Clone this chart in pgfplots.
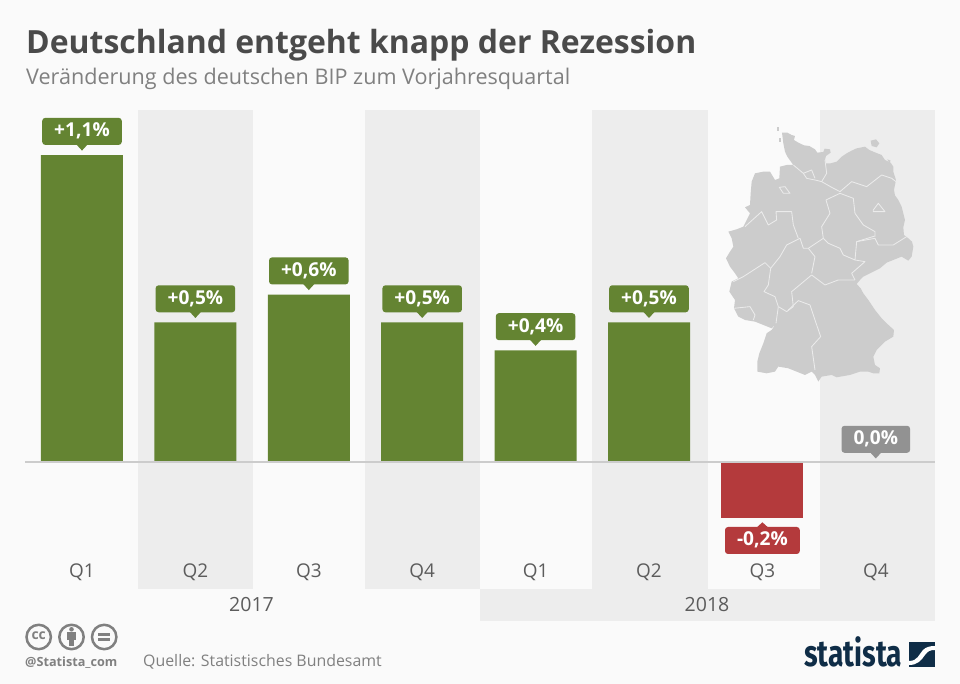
\documentclass[border=0pt]{standalone}
\usepackage{pgfplots}
\usepackage{fontspec}
\pgfplotsset{compat=1.18}
\setmainfont{Open Sans}
\newfontfamily\logofont{Fira Sans}
\definecolor{bgcol}{HTML}{FAFAFA}
\definecolor{bandcol}{HTML}{EDEDED}
\definecolor{barpos}{HTML}{648432}
\definecolor{barneg}{HTML}{B43A3C}
\definecolor{barzero}{HTML}{929292}
\definecolor{titlecol}{HTML}{4A4A4A}
\definecolor{subcol}{HTML}{808080}
\definecolor{mapcol}{HTML}{CCCCCC}
\definecolor{maplinecol}{HTML}{EBEBEB}
\definecolor{logocol}{HTML}{0F2D47}

% little pointers under and over the value labels
\pgfdeclareplotmark{tipdown}{%
  \pgfpathmoveto{\pgfqpoint{-5.5bp}{10.5bp}}%
  \pgfpathlineto{\pgfqpoint{5.5bp}{10.5bp}}%
  \pgfpathlineto{\pgfqpoint{0bp}{4.5bp}}%
  \pgfpathclose\pgfusepathqfill}
\pgfdeclareplotmark{tipup}{%
  \pgfpathmoveto{\pgfqpoint{-5.5bp}{-9.5bp}}%
  \pgfpathlineto{\pgfqpoint{5.5bp}{-9.5bp}}%
  \pgfpathlineto{\pgfqpoint{0bp}{-4.5bp}}%
  \pgfpathclose\pgfusepathqfill}

\tikzset{
  valuelabel/.style={
    font=\bfseries\fontsize{19.2pt}{20pt}\selectfont,
    text=white, rounded corners=3bp,
    inner xsep=12bp, inner ysep=5bp, text height=14bp, text depth=3bp
  }
}

\begin{document}
\begin{tikzpicture}
\path[use as bounding box] (0,0) rectangle (960bp,684bp);
\fill[bgcol] (0,0) rectangle (960bp,684bp);

\begin{axis}[
  at={(25bp,95bp)}, anchor=south west,
  scale only axis, width=910bp, height=479bp,
  xmin=-0.5026, xmax=7.522, ymin=-0.4552, ymax=1.2616,
  clip=false,
  axis on top,
  axis line style={draw=none},
  major tick length=0pt,
  ytick=\empty,
  xtick={0,...,7},
  xticklabels={Q1,Q2,Q3,Q4,Q1,Q2,Q3,Q4},
  xticklabel style={
    anchor=base, yshift=11bp, text=titlecol!90,
    font=\fontsize{19pt}{20pt}\selectfont
  },
  point meta=explicit symbolic,
]
% alternating bands, and the strip under the 2018 quarters
\fill[bandcol] (axis cs:0.494,-0.4552) rectangle (axis cs:1.508,1.2616);
\fill[bandcol] (axis cs:2.496,-0.4552) rectangle (axis cs:3.51,1.2616);
\fill[bandcol] (axis cs:4.497,-0.4552) rectangle (axis cs:5.52,1.2616);
\fill[bandcol] (axis cs:6.508,-0.4552) rectangle (axis cs:7.522,1.2616);
\fill[bandcol] (axis cs:3.51,-0.4552) rectangle (axis cs:7.522,-0.5699);

\addplot[ybar, bar width=82bp, bar shift=0pt, fill=barpos, draw=none,
  nodes near coords,
  nodes near coords style={valuelabel, fill=barpos, anchor=south, yshift=10bp}]
  coordinates {
  (0,1.1) [+1,1\%]
  (1,0.5) [+0,5\%]
  (2,0.6) [+0,6\%]
  (3,0.5) [+0,5\%]
  (4,0.4) [+0,4\%]
  (5,0.5) [+0,5\%]
};
\addplot[ybar, bar width=82bp, bar shift=0pt, fill=barneg, draw=none,
  nodes near coords,
  nodes near coords style={valuelabel, fill=barneg, anchor=north, yshift=-9bp}]
  coordinates {(6,-0.2) [-0,2\%]};
\addplot[ybar, bar width=82bp, bar shift=0pt, fill=barzero, draw=none,
  nodes near coords,
  nodes near coords style={valuelabel, fill=barzero, anchor=south, yshift=9bp}]
  coordinates {(7,0) [0,0\%]};

% pointers
\addplot[only marks, mark=tipdown, color=barpos]
  coordinates {(0,1.1) (1,0.5) (2,0.6) (3,0.5) (4,0.4) (5,0.5)};
\addplot[only marks, mark=tipup, color=barneg]
  coordinates {(6,-0.2)};
\addplot[only marks, mark=tipdown, color=barzero]
  coordinates {(7,-0.0036)};

% zero line
\addplot[mapcol, line width=1.5bp]
  coordinates {(-0.5026,0) (7.522,0)};
\end{axis}

% everything below is in pixels from the top left corner
\begin{scope}[x=1bp, y=-1bp, shift={(0,684bp)}]
\node[anchor=base west, inner sep=0, text=titlecol,
  font=\bfseries\fontsize{32.06pt}{36pt}\selectfont]
  at (26,54) {Deutschland entgeht knapp der Rezession};
\node[anchor=base west, inner sep=0, text=subcol,
  font=\fontsize{21.66pt}{24pt}\selectfont]
  at (26,85) {Veränderung des deutschen BIP zum Vorjahresquartal};

\node[anchor=base, inner sep=0, text=titlecol!90,
  font=\fontsize{19.6pt}{20pt}\selectfont] at (251.5,612) {2017};
\node[anchor=base, inner sep=0, text=titlecol!90,
  font=\fontsize{19.6pt}{20pt}\selectfont] at (707,612) {2018};

\node[anchor=base west, inner sep=0, text=subcol,
  font=\fontsize{15.95pt}{18pt}\selectfont]
  at (143,667) {Quelle: Statistisches Bundesamt};
\node[anchor=base west, inner sep=0, text=subcol,
  font=\bfseries\fontsize{12.7pt}{14pt}\selectfont]
  at (25,667) {@Statista\_com};

% cc icons
\draw[subcol, line width=2.5bp] (38.7,637) circle (12.2bp);
\draw[subcol, line width=2.5bp] (71.5,637) circle (12.2bp);
\draw[subcol, line width=2.5bp] (104.2,637) circle (12.2bp);
\node[inner sep=0, text=subcol, font=\bfseries\fontsize{14pt}{14pt}\selectfont]
  at (38.7,635.5) {cc};
\fill[subcol] (71.5,629.3) circle (2.3bp);
\fill[subcol] (67.2,632.5) rectangle (75.8,640.5);
\fill[subcol] (68.8,640) rectangle (74.2,646);
\fill[subcol] (98.3,632.8) rectangle (110.1,635.6);
\fill[subcol] (98.3,638.4) rectangle (110.1,641.2);

% logo
\node[anchor=base west, inner sep=0, text=logocol, xscale=0.765, transform shape,
  font=\logofont\bfseries\fontsize{37pt}{38pt}\selectfont]
  at (804,666.7) {statista};
\fill[logocol] (909,642) rectangle (935,667);
\fill[white] (909,661) .. controls (918,661) and (919,654) .. (923,650)
  .. controls (926,647) and (930,646) .. (935,646)
  -- (935,650) .. controls (930,650) and (928,651) .. (925,655)
  .. controls (921,661) and (917,665) .. (909,665) -- cycle;
\end{scope}

% map of Germany, traced by hand; units are thirds of a pixel from (700,110)
\begin{scope}[x=0.3333bp, y=-0.3333bp, shift={(700bp,574bp)}]
\fill[mapcol] (246,68) -- (262,68) -- (275,75) -- (285,78) -- (282,90) -- (295,98)
  -- (312,106) -- (328,108) -- (345,118) -- (352,128) -- (370,126) -- (374,116)
  -- (390,118) -- (392,128) -- (378,138) -- (375,150) -- (378,160) -- (392,160)
  -- (410,155) -- (425,140) -- (440,130) -- (455,122) -- (470,115) -- (495,110)
  -- (508,120) -- (522,126) -- (545,135) -- (555,150) -- (572,158) -- (580,170)
  -- (580,185) -- (588,210) -- (582,240) -- (585,256) -- (595,270) -- (605,290)
  -- (610,310) -- (615,330) -- (610,352) -- (612,375) -- (625,385) -- (636,395)
  -- (640,410) -- (635,440) -- (625,452) -- (605,440) -- (580,450) -- (560,458)
  -- (540,475) -- (510,490) -- (490,500) -- (480,510) -- (470,522) -- (482,535)
  -- (490,550) -- (505,570) -- (525,600) -- (545,625) -- (560,640) -- (582,660)
  -- (580,680) -- (555,695) -- (530,720) -- (520,740) -- (525,765) -- (540,775)
  -- (538,790) -- (520,790) -- (505,785) -- (480,785) -- (450,795) -- (410,802)
  -- (395,795) -- (365,800) -- (355,815) -- (345,795) -- (335,785) -- (315,795)
  -- (290,785) -- (265,775) -- (235,770) -- (225,785) -- (200,790) -- (172,785)
  -- (172,755) -- (178,730) -- (190,700) -- (200,670) -- (215,660) -- (228,640)
  -- (215,655) -- (190,645) -- (165,635) -- (135,630) -- (115,620) -- (102,595)
  -- (105,570) -- (88,545) -- (95,515) -- (115,505) -- (105,490) -- (90,470)
  -- (78,445) -- (90,425) -- (100,410) -- (95,385) -- (85,365) -- (110,358)
  -- (130,350) -- (150,310) -- (135,292) -- (150,285) -- (152,250) -- (155,215)
  -- (165,190) -- (190,185) -- (210,185) -- (225,210) -- (238,205) -- (240,170)
  -- (260,165) -- (280,165) -- (262,140) -- (255,125) -- (250,100) -- cycle;
\fill[mapcol] (512,92) -- (528,88) -- (538,100) -- (530,112) -- (515,108) -- cycle;
\fill[mapcol] (232,50) -- (238,50) -- (238,62) -- (232,62) -- cycle;
\fill[mapcol] (238,84) -- (243,84) -- (243,96) -- (238,96) -- cycle;
\fill[mapcol] (562,148) -- (572,152) -- (568,160) -- cycle;
\begin{scope}[line width=0.85bp, line join=round]
\draw[maplinecol] (280,165) -- (310,190) -- (320,205) -- (345,210) -- (365,215) -- (395,232) -- (420,245);
\draw[maplinecol] (310,190) -- (335,180) -- (345,205);
\draw[maplinecol] (420,245) -- (455,215) -- (500,230) -- (545,195) -- (575,205) -- (588,215);
\draw[maplinecol] (375,150) -- (380,190) -- (365,215);
\draw[maplinecol] (420,250) -- (378,270) -- (390,310) -- (365,350) -- (370,385);
\draw[maplinecol] (420,250) -- (460,265) -- (465,310) -- (490,345) -- (525,365) -- (525,380);
\draw[maplinecol] (525,378) -- (470,395) -- (465,450) -- (430,435) -- (420,415) -- (385,400) -- (370,385);
\draw[maplinecol] (370,385) -- (325,415) -- (310,415) -- (300,385);
\draw[maplinecol] (135,350) -- (185,305) -- (205,345) -- (230,330) -- (228,305) -- (275,305) -- (280,345) -- (295,385);
\draw[maplinecol] (300,385) -- (260,405) -- (240,440) -- (212,475);
\draw[maplinecol] (212,475) -- (195,458) -- (130,500) -- (100,515);
\draw[maplinecol] (325,415) -- (345,440) -- (335,490);
\draw[maplinecol] (335,495) -- (375,525) -- (415,510) -- (465,510);
\draw[maplinecol] (465,510) -- (455,490) -- (495,455) -- (465,450);
\draw[maplinecol] (470,395) -- (525,385) -- (535,405) -- (580,405) -- (620,380);
\draw[maplinecol] (335,495) -- (275,545) -- (280,590) -- (260,605) -- (235,590);
\draw[maplinecol] (212,475) -- (205,525) -- (192,545) -- (225,560) -- (235,590);
\draw[maplinecol] (235,590) -- (228,640);
\draw[maplinecol] (102,595) -- (150,590) -- (165,615) -- (160,630);
\draw[maplinecol] (265,600) -- (295,572) -- (330,585) -- (345,630) -- (362,680) -- (335,710) -- (345,780);
\draw[maplinecol] (238,232) -- (255,230) -- (270,250) -- (250,250) -- cycle;
\draw[maplinecol] (520,300) -- (535,280) -- (555,305) -- (520,305) -- cycle;
\end{scope}
\end{scope}
\end{tikzpicture}
\end{document}
